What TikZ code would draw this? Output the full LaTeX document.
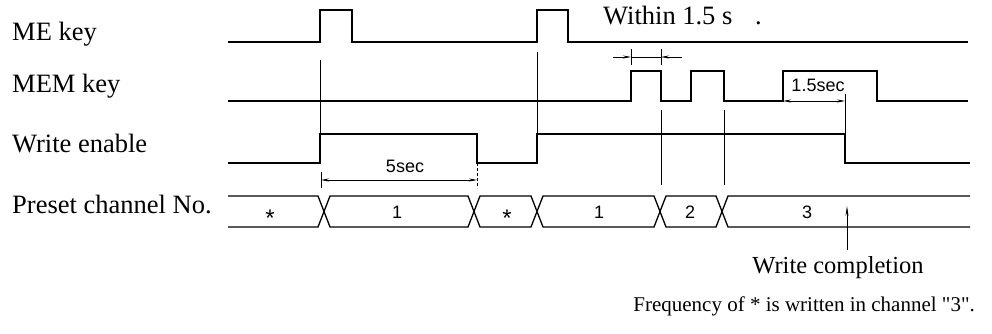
\documentclass[tikz,border=0pt]{standalone}
\usepackage{fontspec}
\setmainfont{Liberation Serif}[Ligatures=TeXOff]
\newfontfamily\dimfont{Liberation Sans}
\usetikzlibrary{arrows.meta}
\begin{document}
\begin{tikzpicture}[x=1pt,y=-1pt,
  wave/.style={line width=1.3pt, line join=miter},
  thinline/.style={line width=0.7pt},
  lbl/.style={font=\fontsize{26.5}{26.5}\selectfont, anchor=base west, inner sep=0},
  note/.style={font=\fontsize{24.5}{24.5}\selectfont, anchor=base west, inner sep=0},
  sans/.style={font=\dimfont\fontsize{18}{18}\selectfont, anchor=base, inner sep=0},
  star/.style={font=\dimfont\fontsize{24}{24}\selectfont, anchor=base, inner sep=0},
  dimarrow/.style={-{Stealth[length=8pt,width=3pt]}, line width=0.7pt}]
\useasboundingbox (0,0) rectangle (992,334);

% labels
\node[lbl] (lme) at (12,41) {ME key};
\node[lbl] (lmem) at (12,93) {MEM key};
\node[lbl] (lwe) at (12,152) {Write enable};
\node[lbl] (lch) at (12,213) {Preset channel No.};

% ME key waveform
\draw[wave] (228,42) -- (320,42) -- (320,10) -- (352,10) -- (352,42) -- (537,42)
  -- (537,10) -- (568,10) -- (568,42) -- (968,42);
% MEM key waveform
\draw[wave] (228,101) -- (631,101) -- (631,71) -- (661,71) -- (661,101) -- (691,101)
  -- (691,71) -- (724,71) -- (724,101) -- (783,101) -- (783,71) -- (877,71)
  -- (877,101) -- (968,101);
% Write enable waveform
\draw[wave] (228,163) -- (320,163) -- (320,134) -- (477,134) -- (477,163) -- (537,163)
  -- (537,134) -- (845,134) -- (845,163) -- (970,163);

% Preset channel bus
\draw[wave] (228,196) -- (318,196) -- (330,227) -- (468,227) -- (480,196) -- (531,196)
  -- (543,227) -- (654,227) -- (666,196) -- (716,196) -- (728,227) -- (970,227);
\draw[wave] (228,227) -- (318,227) -- (330,196) -- (468,196) -- (480,227) -- (531,227)
  -- (543,196) -- (654,196) -- (666,227) -- (716,227) -- (728,196) -- (970,196);
\node[star] (c1) at (270,226) {*};
\node[sans] (c2) at (397,218) {1};
\node[star] (c3) at (507,226) {*};
\node[sans] (c4) at (599,218) {1};
\node[sans] (c5) at (690,218) {2};
\node[sans] (c6) at (807,218) {3};

% vertical reference lines
\draw[thinline] (320,60) -- (320,134);
\draw[thinline] (537,52) -- (537,134);
\draw[thinline] (661,110) -- (661,185);
\draw[thinline] (724,110) -- (724,185);
\draw[thinline] (845,94) -- (845,134);

% 5sec dimension
\coordinate (f1) at (321,180);
\coordinate (f2) at (477,180);
\coordinate (fm) at (399,180);
\draw[thinline] (321,172) -- (321,188);
\draw[thinline, dash pattern=on 3pt off 2pt] (477,163) -- (477,188);
\draw[dimarrow] (fm) -- (f1);
\draw[dimarrow] (fm) -- (f2);
\node[sans] (t5) at (405,172) {5sec};

% Within 1.5 s dimension
\coordinate (w1) at (631,57);
\coordinate (w2) at (661,57);
\coordinate (w0) at (613,57);
\coordinate (w3) at (682,57);
\draw[thinline] (631,49) -- (631,65);
\draw[thinline] (661,49) -- (661,65);
\draw[thinline] (w1) -- (w2);
\draw[dimarrow] (w0) -- (w1);
\draw[dimarrow] (w3) -- (w2);
\node[lbl] (tw) at (603,25) {Within 1.5 s};
\node[lbl] (tdot) at (755,25) {.};

% 1.5sec dimension
\coordinate (s1) at (783,101);
\coordinate (s2) at (845,101);
\coordinate (sm) at (814,101);
\draw[dimarrow] (sm) -- (s1);
\draw[dimarrow] (sm) -- (s2);
\node[sans] (t15) at (818,92) {1.5sec};

% write completion
\node[note, anchor=base] (wc) at (838,273) {Write completion};
\coordinate (wa) at (847,250);
\coordinate (wb) at (847,206);
\draw[-{Stealth[length=10pt,width=3pt]}, thinline] (wa) -- (wb);

\node[note, anchor=base east, font=\fontsize{21}{21}\selectfont] (fr) at (975,311) {Frequency of * is written in channel "3".};
\end{tikzpicture}
\end{document}
